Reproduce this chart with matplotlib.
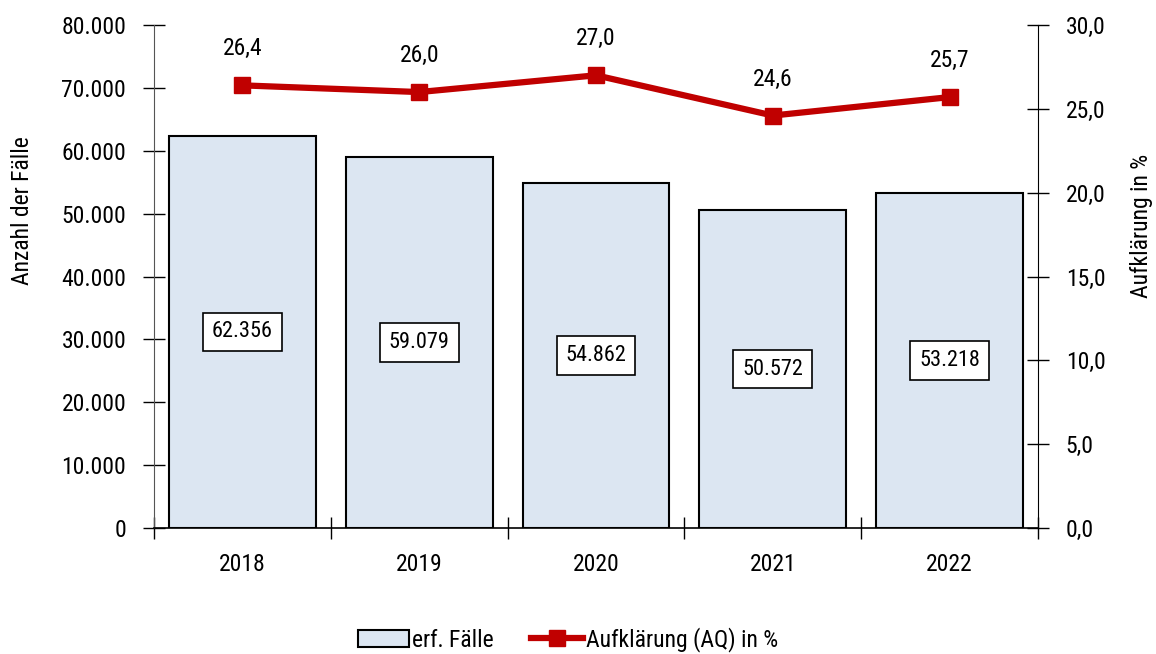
import matplotlib
matplotlib.use("Agg")
import matplotlib.pyplot as plt
from matplotlib.ticker import FuncFormatter, FixedLocator
import numpy as np

plt.rcParams['font.family'] = ['Liberation Sans Narrow', 'Arial Narrow', 'Roboto Condensed',
                               'DejaVu Sans Condensed', 'Liberation Sans', 'DejaVu Sans']
plt.rcParams['font.stretch'] = 'condensed'

# ── Data ────────────────────────────────────────────────────────────────
years = ['2018', '2019', '2020', '2021', '2022']
faelle = [62356, 59079, 54862, 50572, 53218]
aq = [26.4, 26.0, 27.0, 24.6, 25.7]


def de_thousands(v, _pos=None):
    return f"{int(round(v)):,}".replace(',', '.')


def de_decimal(v, _pos=None):
    return f"{v:.1f}".replace('.', ',')


fig = plt.figure(figsize=(11.56, 6.54), dpi=100)
ax = fig.add_axes([154 / 1156, 1 - 528 / 654, (1038 - 154) / 1156, (528 - 25) / 654])
x = np.arange(len(years))

bars = ax.bar(x, faelle, width=0.83, color='#dce6f2', edgecolor='black',
              linewidth=1.5, label='erf. Fälle', zorder=2)
for xi, v in zip(x, faelle):
    ax.text(xi, v / 2, de_thousands(v), ha='center', va='center', fontsize=16,
            bbox=dict(boxstyle='square,pad=0.4', fc='white', ec='black', lw=1.2),
            zorder=3)

ax.set_xlim(-0.5, len(years) - 0.5)
ax.set_ylim(0, 80000)
ax.set_yticks(np.arange(0, 80001, 10000))
ax.yaxis.set_major_formatter(FuncFormatter(de_thousands))
ax.set_xticks(x)
ax.set_xticklabels(years)
ax.xaxis.set_minor_locator(FixedLocator(np.arange(-0.5, len(years), 1.0)))
ax.tick_params(axis='x', which='major', length=0, pad=18, labelsize=17)
ax.tick_params(axis='x', which='minor', length=16, direction='inout', width=1)
ax.tick_params(axis='y', length=16, direction='inout', width=1, labelsize=17, pad=12)
ax.set_ylabel('Anzahl der Fälle', fontsize=17)
ax.yaxis.set_label_coords(-0.136, 0.63)
for s in ['top', 'right']:
    ax.spines[s].set_visible(False)
ax.spines['left'].set_color('#555555')
ax.spines['bottom'].set_linewidth(1.2)

ax2 = ax.twinx()
line, = ax2.plot(x, aq, color='#c00000', linewidth=4.5, marker='s',
                 markersize=11, label='Aufklärung (AQ) in %', zorder=4)
for xi, v in zip(x, aq):
    ax2.annotate(de_decimal(v), (xi, v), xytext=(0, 18), textcoords='offset points',
                 ha='center', va='bottom', fontsize=17)
ax2.set_ylim(0, 30)
ax2.set_yticks(np.arange(0, 30.1, 5))
ax2.yaxis.set_major_formatter(FuncFormatter(de_decimal))
ax2.tick_params(axis='y', length=16, direction='inout', width=1, labelsize=17, pad=12)
ax2.set_ylabel('Aufklärung in %', fontsize=17, rotation=90, va='center')
ax2.yaxis.set_label_coords(1.117, 0.60)
for s in ['top', 'left', 'bottom']:
    ax2.spines[s].set_visible(False)

fig.legend(handles=[bars, line], loc='center', bbox_to_anchor=(0.491, 0.022),
           ncol=2, frameon=False, fontsize=17, handlelength=2.2, columnspacing=1.6,
           handletextpad=0.1)

fig.savefig('out.png', dpi=100)
